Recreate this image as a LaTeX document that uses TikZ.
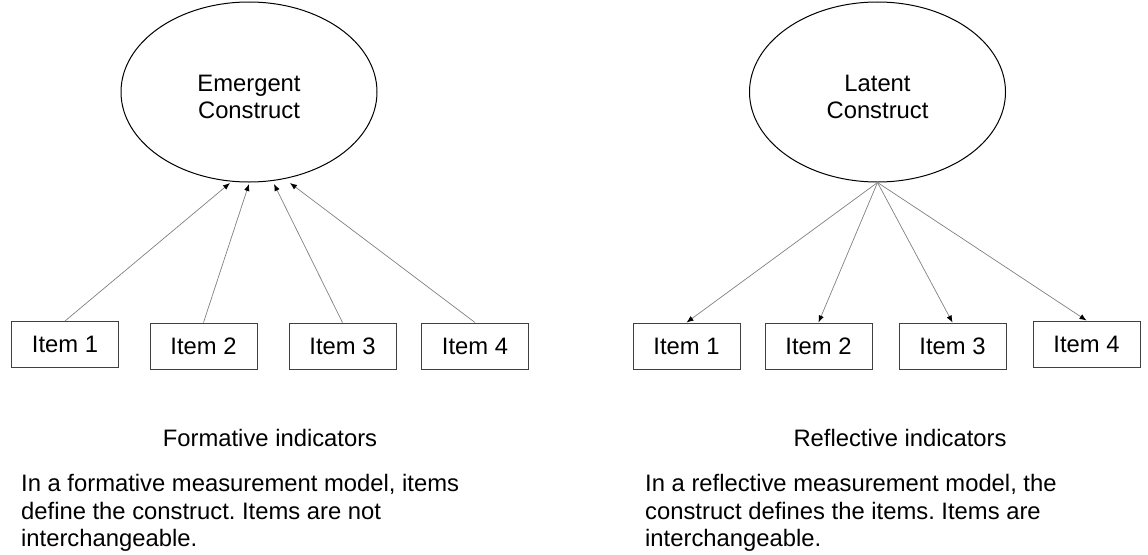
\documentclass[tikz,border=0pt]{standalone}
\usepackage{fontspec}
\setmainfont{Liberation Sans}
\frenchspacing
\usetikzlibrary{arrows.meta,shapes.geometric}

\begin{document}
\begin{tikzpicture}[x=1pt,y=-1pt,>={Latex[length=7pt,width=5.5pt,color=black]},
    font=\fontsize{23.8}{27.4}\selectfont,
    construct/.style={ellipse,draw,line width=1pt,minimum width=256pt,minimum height=180pt,inner sep=0pt},
    item/.style={rectangle,draw=black!75,line width=1pt,minimum width=107pt,minimum height=46pt,inner sep=0pt},
    link/.style={draw=black!50,line width=0.7pt},
    caption/.style={anchor=base,inner sep=0pt},
    note/.style={anchor=north west,inner sep=0pt,align=left}]

% fix the page size
\useasboundingbox (0,0) rectangle (1148,554);

% formative side
\node[construct] (emergent) at (249,92) {};
\node[align=center,inner sep=0pt] (emergenttext) at ([yshift=-5pt]emergent.center) {Emergent\\Construct};
\node[item] (f1) at (65,344.5) {Item 1};
\node[item] (f2) at (203.5,346) {Item 2};
\node[item] (f3) at (342.5,346) {Item 3};
\node[item] (f4) at (475,346) {Item 4};

% arrow ends under the ellipse
\coordinate (e1) at (230,183);
\coordinate (e2) at (249,184);
\coordinate (e3) at (274,184);
\coordinate (e4) at (290,183);

\draw[link,->] (f1.north) -- (e1);
\draw[link,->] (f2.north) -- (e2);
\draw[link,->] (f3.north) -- (e3);
\draw[link,->] (f4.north) -- (e4);

% reflective side
\node[construct] (latent) at (877.5,92) {};
\node[align=center,inner sep=0pt] (latenttext) at ([yshift=-5pt]latent.center) {Latent\\Construct};
\node[item] (r1) at (686.5,346) {Item 1};
\node[item] (r2) at (818.5,346) {Item 2};
\node[item] (r3) at (952.5,346) {Item 3};
\node[item] (r4) at (1086.5,344) {Item 4};

\draw[link,->] (latent.south) -- (r1.north);
\draw[link,->] (latent.south) -- (r2.north);
\draw[link,->] (latent.south) -- (r3.north);
\draw[link,->] (latent.south) -- (r4.north);

% captions and explanations
\node[caption] (fcap) at (270,446) {Formative indicators};
\node[caption] (rcap) at (900,446) {Reflective indicators};
\node[note] (fnote) at (21,474.5) {In a formative measurement model, items\\define the construct. Items are not\\interchangeable.};
\node[note] (rnote) at (645,474.5) {In a reflective measurement model, the\\construct defines the items. Items are\\interchangeable.};

\end{tikzpicture}
\end{document}
